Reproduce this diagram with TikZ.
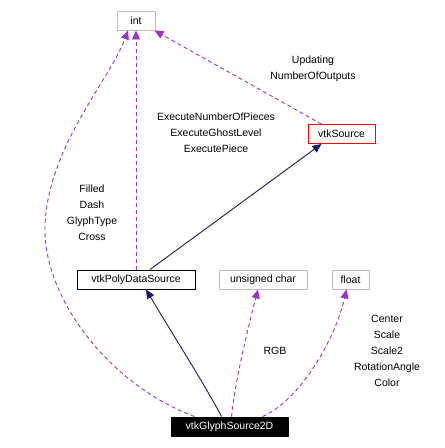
\documentclass[tikz,border=0pt]{standalone}
\usepackage{fontspec}
\setmainfont{Liberation Sans}
\usetikzlibrary{arrows.meta}
\definecolor{edgepurple}{RGB}{154,50,205}
\definecolor{edgenavy}{RGB}{25,25,112}
\definecolor{boxgray}{RGB}{191,191,191}
\begin{document}
\begin{tikzpicture}[x=1pt,y=-1pt,
  font=\fontsize{10.5}{16}\selectfont,
  cls/.style={draw=boxgray,fill=white,inner sep=0pt,minimum height=19pt,line width=0.9pt},
  usage/.style={draw=edgepurple,dashed,dash pattern=on 4pt off 3pt,line width=0.9pt,-{Triangle[length=9pt,width=8pt]},edgepurple},
  inherit/.style={draw=edgenavy,line width=0.9pt,-{Triangle[length=9pt,width=8pt]},edgenavy},
  lbl/.style={align=center,inner sep=0pt}]
\useasboundingbox (0,0) rectangle (445,448);
\node[cls,minimum width=38pt] (int) at (136,20.5) {int};
\node[cls,draw=red,minimum width=67pt] (src) at (341.5,134) {vtkSource};
\node[cls,draw=black,minimum width=118pt] (pds) at (136,279.5) {vtkPolyDataSource};
\node[cls,minimum width=88pt] (uchar) at (263,279.5) {unsigned char};
\node[cls,minimum width=37pt] (flt) at (350.5,279.5) {float};
\node[cls,draw=black,fill=black,text=white,minimum width=117pt] (glyph) at (229.5,426.5) {vtkGlyphSource2D};

\draw[inherit] ([xshift=51pt]glyph.north west) .. controls (205,385) and (170,330) .. ([xshift=10pt]pds.south);
\draw[inherit] ([xshift=14pt]pds.north) -- ([xshift=-20pt]src.south);
\draw[usage] (pds.north) -- (int.south);
\draw[usage] ([xshift=-20pt]src.north) -- ([xshift=-1pt]int.south east);
\draw[usage] ([xshift=24pt]glyph.north west) .. controls (110,385) and (45,300) .. (45,230) .. controls (45,150) and (110,80) .. ([xshift=-8pt]int.south);
\draw[usage] ([xshift=61pt]glyph.north west) .. controls (235,380) and (250,320) .. ([xshift=-5pt]uchar.south);
\draw[usage] ([xshift=92pt]glyph.north west) .. controls (300,400) and (335,340) .. ([xshift=-4pt]flt.south);

\node[lbl] (l1) at (216,133) {ExecuteNumberOfPieces\\ExecuteGhostLevel\\ExecutePiece};
\node[lbl] (l2) at (313,69) {Updating\\NumberOfOutputs};
\node[lbl] (l3) at (92,213) {Filled\\Dash\\GlyphType\\Cross};
\node[lbl] (l4) at (275,351) {RGB};
\node[lbl] (l5) at (387,351) {Center\\Scale\\Scale2\\RotationAngle\\Color};
\end{tikzpicture}
\end{document}
